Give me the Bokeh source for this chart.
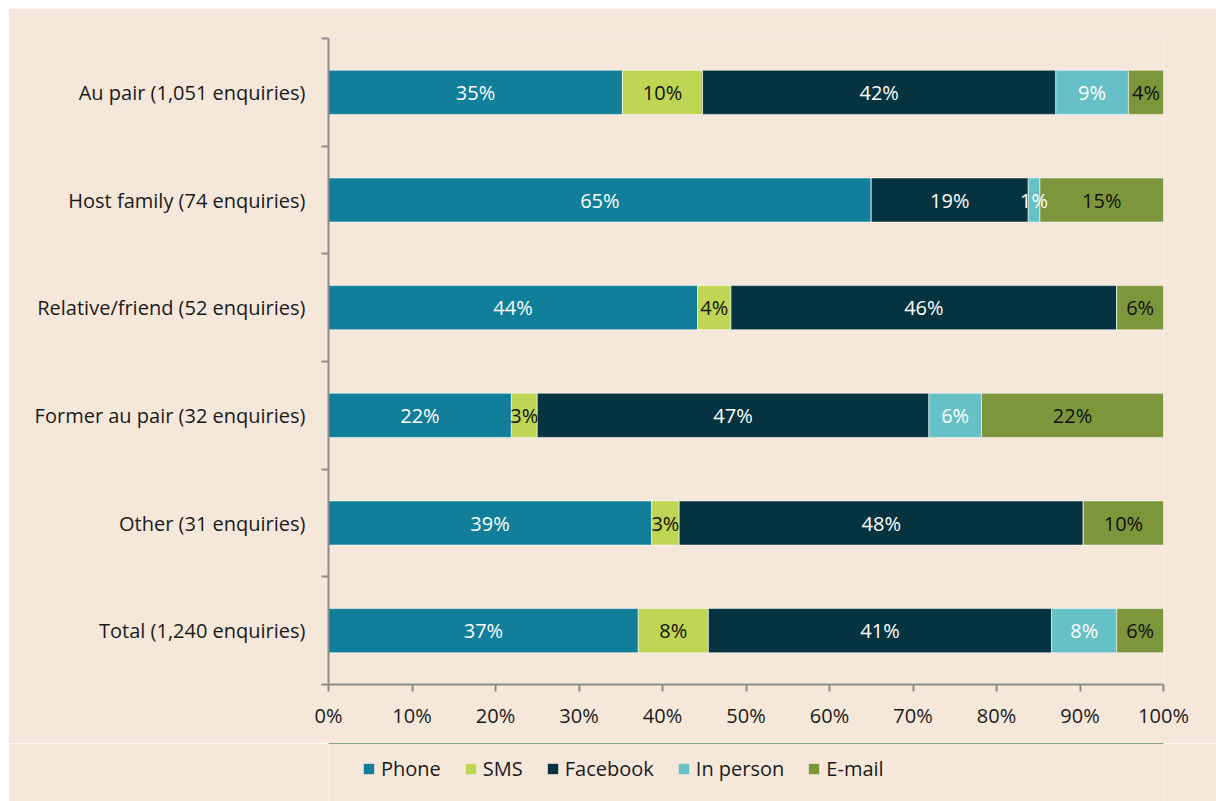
from bokeh.plotting import figure
from bokeh.layouts import column
from bokeh.models import ColumnDataSource, FixedTicker, PrintfTickFormatter, Legend, LegendItem, Grid
from bokeh.core.properties import value
from bokeh.embed import file_html
from bokeh.resources import INLINE

categories = ["Au pair (1,051 enquiries)", "Host family (74 enquiries)",
              "Relative/friend (52 enquiries)", "Former au pair (32 enquiries)",
              "Other (31 enquiries)", "Total (1,240 enquiries)"]
series = ["Phone", "SMS", "Facebook", "In person", "E-mail"]
phone = [35.2, 65.0, 44.2, 21.9, 38.7, 37.1]
sms = [9.6, 0.0, 4.0, 3.1, 3.3, 8.4]
facebook = [42.3, 18.8, 46.2, 46.9, 48.4, 41.1]
in_person = [8.7, 1.4, 0.0, 6.3, 0.0, 7.8]
email = [4.2, 14.8, 5.6, 21.8, 9.6, 5.6]
x_ticks = [0, 10, 20, 30, 40, 50, 60, 70, 80, 90, 100]

colors = ["#117E9A", "#BED654", "#063340", "#66C1C7", "#7D963B"]
label_colors = ["#FFFFFF", "#111111", "#FFFFFF", "#FFFFFF", "#111111"]
BG = "#F5E8DB"
AX = "#8C8C8C"
FONT = "Open Sans"
FS = "20px"

W = 1208
H_MAIN = 735
H_LEG = 58

n = len(categories)
ypos = [n - 0.5 - i for i in range(n)]
bounds = [float(i) for i in range(n + 1)]

p = figure(width=W, height=H_MAIN, x_range=(0, 100), y_range=(0, n),
           output_backend="svg", toolbar_location=None,
           min_border_left=320, min_border_right=53, min_border_top=30, min_border_bottom=59)
p.background_fill_color = BG
p.border_fill_color = BG
p.outline_line_color = None
p.grid.visible = False

data = [phone, sms, facebook, in_person, email]
left = [0.0] * n
tx, ty, tt, tc = [], [], [], []
for s, vals, col, lc in zip(series, data, colors, label_colors):
    right = [l + v for l, v in zip(left, vals)]
    src = ColumnDataSource(dict(y=ypos, left=left, right=right))
    p.hbar(y="y", left="left", right="right", height=0.41, source=src,
           fill_color=col, line_color="#FFFFFF", line_alpha=0.55, line_width=1)
    for yy, l, v in zip(ypos, left, vals):
        if v > 0:
            tx.append(l + v / 2)
            ty.append(yy)
            tt.append(f"{round(v)}%")
            tc.append(lc)
    left = right

tsrc = ColumnDataSource(dict(x=tx, y=ty, text=tt, color=tc))
p.text(x="x", y="y", text="text", source=tsrc, text_color="color",
       text_align="center", text_baseline="middle",
       text_font=value(FONT), text_font_size=FS)

# y axis
ya = p.yaxis[0]
ya.ticker = FixedTicker(ticks=ypos, minor_ticks=bounds)
ya.major_label_overrides = {yy: c for yy, c in zip(ypos, categories)}
ya.major_tick_line_color = None
ya.major_tick_out = 0
ya.major_tick_in = 0
ya.minor_tick_out = 7
ya.minor_tick_in = 0
ya.minor_tick_line_color = AX
ya.minor_tick_line_width = 2
ya.axis_line_color = AX
ya.axis_line_width = 2
ya.major_label_standoff = 16
ya.major_label_text_font = FONT
ya.major_label_text_font_size = FS
ya.major_label_text_color = "#1A1A1A"

# x axis
xa = p.xaxis[0]
xa.ticker = FixedTicker(ticks=x_ticks)
xa.formatter = PrintfTickFormatter(format="%d%%")
xa.major_tick_out = 7
xa.major_tick_in = 0
xa.major_tick_line_color = AX
xa.major_tick_line_width = 2
xa.minor_tick_line_color = None
xa.axis_line_color = AX
xa.axis_line_width = 2
xa.major_label_standoff = 10
xa.major_label_text_font = FONT
xa.major_label_text_font_size = FS
xa.major_label_text_color = "#1A1A1A"

# legend strip
p2 = figure(width=W, height=H_LEG, x_range=(0, 1), y_range=(0, 1),
            output_backend="svg", toolbar_location=None,
            x_axis_location=None, y_axis_location=None, min_border=0)
p2.background_fill_color = BG
p2.border_fill_color = BG
p2.outline_line_color = None
for g in p2.select(type=Grid):
    g.visible = False
    g.grid_line_color = None
p2.center = [r for r in p2.center if not isinstance(r, Grid)]
items = []
for s, col in zip(series, colors):
    r = p2.hbar(y=[5], left=[0], right=[1], height=0.5, fill_color=col, line_color=None)
    items.append(LegendItem(label=s, renderers=[r]))
legend = Legend(items=items, orientation="horizontal", location=(34, 19),
                glyph_width=13, glyph_height=13, label_standoff=6, spacing=23,
                padding=0, margin=0,
                label_text_font=FONT, label_text_font_size=FS,
                label_text_color="#1A1A1A",
                background_fill_alpha=0, border_line_color=None)
p2.add_layout(legend, "center")

layout = column(p, p2, spacing=0)
layout.margin = (8, 0, 0, 8)

open("out.html", "w").write(file_html(layout, INLINE))
